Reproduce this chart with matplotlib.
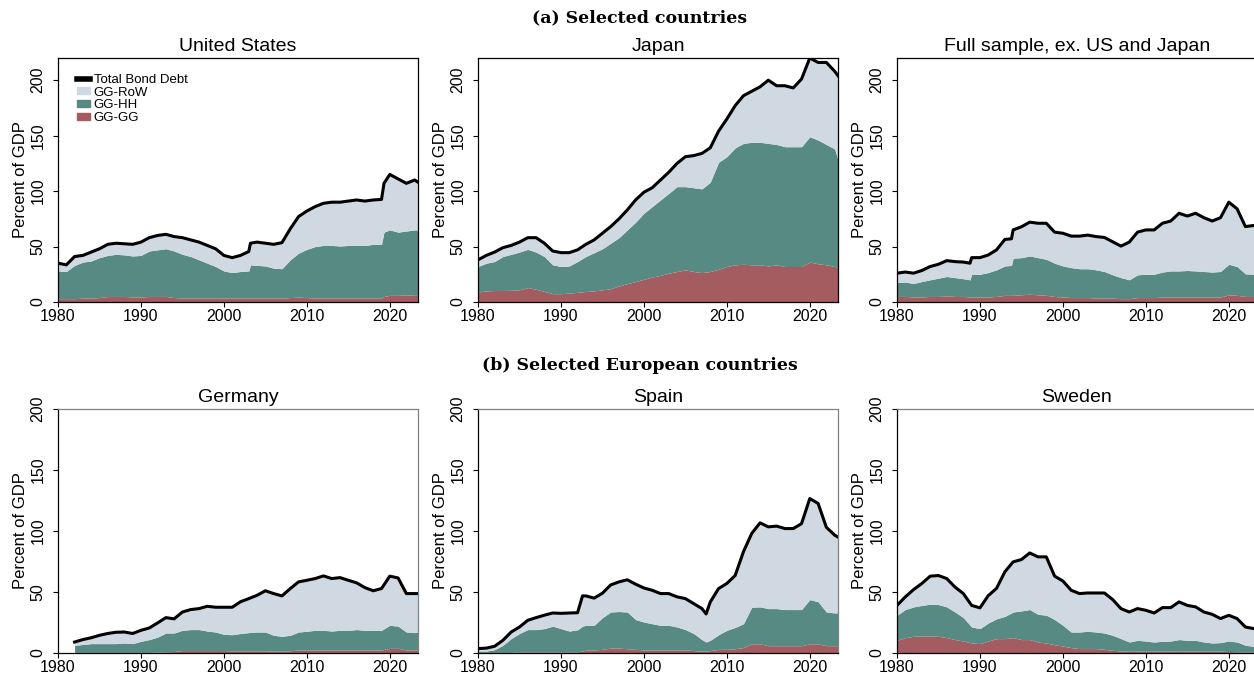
import numpy as np
import matplotlib
matplotlib.use('Agg')
import matplotlib.pyplot as plt
from matplotlib.lines import Line2D
from matplotlib.patches import Patch

plt.rcParams['font.family'] = ['Liberation Sans', 'DejaVu Sans']

# --- data (percent of GDP) ---
# each country: years, GG-GG level, GG-GG + GG-HH level, total bond debt
us_year = list(range(1980, 2004)) + [2003.2] + list(range(2004, 2020)) + [2019.3] + list(range(2020, 2024)) + [2023.4]
us_gg = [3, 3, 3, 3.5, 3.5, 4, 5, 5, 5, 4.5, 4.5, 5, 5, 5, 4, 3.5, 3.5, 3.5, 3.5, 3.5, 3.5, 3.5, 3.5, 3.5,
         3.5,
         3.5, 3.5, 3.5, 3.5, 4, 4.5, 4, 3.5, 3.5, 3.5, 3.5, 3.5, 3.5, 3.5, 3.5, 3.5,
         5,
         6, 6, 6.5, 6,
         6]
us_hh = [28, 27.5, 33, 36, 37, 40, 42, 43, 42.5, 41.5, 42, 46, 47, 48, 46, 43, 41, 38, 35, 32, 28, 26.5, 27.5, 28,
         33.5,
         33, 32.5, 30.5, 30, 38, 44, 47.5, 50, 51, 51, 50.5, 51, 51, 51, 52, 52,
         63,
         65, 63, 64, 65,
         65]
us_total = [35, 33.5, 41, 42, 45, 48, 52, 53, 52.5, 52, 54, 58, 60, 61, 59, 58, 56, 54, 51, 48, 42, 40, 42, 45.5,
            53,
            54, 53, 52, 53.5, 66, 77, 82, 86, 89, 90, 90, 91, 92, 91, 92, 92.5,
            107,
            115, 111, 107, 110,
            108]

jp_year = list(range(1980, 2024)) + [2023.4]
jp_gg = [9, 10, 10.4, 10.4, 10.5, 11, 13, 11.5, 9.5, 7.5,
         7.5, 8, 8.7, 9.5, 10, 11, 12, 14.5, 16.5, 18.5,
         20.5, 22.5, 24, 26, 27.5, 29, 27.5, 26.5, 27.5, 29.5,
         32, 33.5, 34, 33.5, 33.5, 32.5, 33.5, 32, 32, 32,
         36, 34.5, 33.5, 32, 31]
jp_hh = [32, 35, 36.5, 41, 43, 45, 47.5, 45, 41, 33.5,
         32, 32.5, 36.5, 41, 44.5, 48, 53, 58, 65, 72,
         80, 86, 92, 98, 104, 104, 103, 102, 108, 126,
         131, 139, 143, 144, 144, 143, 142, 140, 140, 140,
         149, 146, 142, 138, 128]
jp_total = [38, 42, 45, 49, 51, 54, 58, 58, 53, 46,
            44.5, 44.5, 47, 52, 56, 62, 68, 75, 83, 92,
            99, 103, 110, 117, 125, 131, 132, 134, 139, 154,
            165, 177, 186, 190, 194, 200, 195, 195, 193, 201,
            220, 216, 216, 208, 204]

fs_year = list(range(1980, 1989)) + [1988.8] + list(range(1989, 1994)) + [1993.8] + list(range(1994, 2024)) + [2023.4]
fs_gg = [5, 5, 4.5, 4.5, 5, 5, 5.5, 5, 5,
         4.5,
         4.5, 4.5, 4.5, 5, 6,
         6,
         6, 6.5, 7, 6.5, 6, 5, 4.5, 4, 4, 4, 3.5, 3.5, 3.5, 3, 3,
         4, 4, 4, 4.5, 4.5, 4.5, 4.5, 4.5, 4.5, 4.5, 4.5, 6.5, 6, 5, 5,
         5]
fs_hh = [17.6, 18, 16.7, 18.5, 20, 21.5, 23, 22, 21,
         20,
         25, 25, 26.6, 29, 32.5,
         33,
         39.5, 40, 41.5, 40, 38.5, 35, 32.5, 31, 30, 30, 29, 27.5, 24.5, 22, 20,
         24.5, 25, 25, 27, 28, 28, 28.4, 28, 27.5, 27, 27.5, 34, 32, 25.4, 25,
         25]
fs_total = [26, 27, 26, 28.4, 32, 34, 37.3, 36.4, 36,
            35,
            40, 40, 42.4, 47, 56.4,
            57,
            65, 67.8, 72, 71, 71, 63, 62, 59.4, 59.4, 60.3, 59, 58.2, 54.3, 50.4, 54,
            63, 65, 65, 71, 73, 80, 77.5, 80, 76, 73, 76, 90, 84, 68, 69,
            68]

de_year = list(range(1982, 2024)) + [2023.4]
de_gg = [0.5, 0.5, 0.5, 0.5, 0.5, 0.5, 0.5, 0.5, 0.5, 0.5,
         0.8, 1, 1.2, 2, 2, 2, 2, 2, 2, 1.8,
         1.8, 1.8, 1.8, 1.8, 1.5, 1.5, 1.8, 2.5, 2.5, 2.5,
         2.5, 2.5, 2.5, 2.5, 2.5, 2.5, 2.5, 2.5, 3.8, 3.8,
         2.5, 2.5, 2.5]
de_hh = [6.3, 7, 7.7, 7.7, 7.7, 7.7, 8.2, 7.7, 9.6, 11,
         13, 16.4, 16.4, 18.6, 19.2, 19.2, 18, 17.2, 15.3, 15,
         16, 16.7, 17.2, 17.2, 14.5, 13.7, 14.5, 17.2, 17.8, 18.6,
         18.6, 18, 18.6, 18.6, 19.2, 18.6, 18.6, 18.6, 22.7, 22,
         17.2, 16.7, 17]
de_total = [9, 11, 12.5, 14.5, 16, 17, 17.2, 16, 18.6, 20.5,
            24.6, 29, 28, 33.6, 35.6, 36.4, 38.3, 37.5, 37.5, 37.5,
            42, 44.6, 47.3, 51, 48.7, 46.8, 52.8, 58.3, 59.6, 61,
            63.2, 61, 61.8, 59.6, 57.5, 53.6, 51, 52.8, 63, 61.5,
            48.7, 48.7, 48.7]

es_year = list(range(1980, 1993)) + [1992.6] + list(range(1993, 2008)) + [2007.5] + list(range(2008, 2024)) + [2023.4]
es_gg = [0.5, 0.5, 0.5, 0.5, 0.5, 1, 1, 1, 1, 1, 1, 1, 1,
         1.5,
         2.5, 2.5, 3, 4, 4, 3.5, 3, 2.5, 2.5, 2.5, 2.5, 2.5, 2.5, 2, 1.5,
         1.5,
         2, 3, 3, 3.5, 4.5, 7.5, 7.5, 6, 6, 6, 6, 6, 7.5, 7.5, 6, 6,
         6]
es_hh = [1.6, 1.6, 2.7, 6.3, 11.8, 16, 19.2, 19.2, 20, 22, 20, 18, 19,
         22,
         22.7, 22.7, 29, 33.6, 34, 33.6, 27.4, 25.4, 24, 22.7, 22.7, 21.3, 19.2, 16, 11,
         9,
         10.4, 15, 18.6, 21, 24, 37.5, 37.8, 36.4, 36.4, 35.6, 35.6, 35.6, 43.8, 42, 33.6, 32.8,
         33]
es_total = [3.6, 4, 5.5, 10.4, 17.2, 21.3, 26.8, 29, 31, 32.8, 32.5, 32.8, 33,
            46.8,
            46.8, 45, 49, 55.8, 58.3, 60, 56.4, 53.3, 51.4, 48.7, 48.7, 46, 44.6, 40.5, 36.4,
            32,
            41.8, 52.8, 57, 63.5, 83, 98, 106.7, 103.4, 104, 102, 102, 106, 126.6, 122.6, 103, 96.6,
            95]

se_year = list(range(1980, 2024)) + [2023.4]
se_gg = [10.4, 12.6, 13.7, 14, 14, 13.7, 12.6, 11, 9.8, 8.2,
         7.7, 9.8, 11.8, 11.8, 12.6, 11, 11, 9, 8.2, 6.8,
         5.7, 4.4, 3.6, 3.6, 3.6, 3, 2.2, 1.6, 1.4, 1.5,
         1.5, 1.5, 1.5, 1.5, 1.5, 1.5, 1.5, 1.5, 1.5, 1.5,
         1.2, 1, 1, 1, 1]
se_hh = [31, 35.6, 37.8, 39, 40, 39.7, 37.8, 33.6, 29, 21.3,
         20, 24.6, 28, 30, 33.6, 34.5, 35.6, 31.7, 31, 27.4,
         22.7, 17.2, 17.2, 17.8, 17.2, 16.4, 14.5, 11.8, 9, 10.4,
         9.8, 9, 9.6, 9.8, 11, 10.4, 10.4, 9, 8.2, 8.5,
         9.8, 9, 6.3, 5.5, 5.5]
se_total = [39, 46, 52, 57, 63, 63.5, 61, 54, 48.7, 39,
            37, 47, 53, 66.5, 74.7, 76.6, 82, 78.8, 78.8, 63,
            59, 51.4, 48.7, 49.2, 49.2, 49.2, 43.8, 36.4, 33.6, 36.4,
            35, 32.8, 37.2, 37.2, 41.9, 39, 37.8, 33.6, 31.7, 28.2,
            30.9, 28.2, 21.3, 20, 19.5]

panels = [
    ('United States', us_year, us_gg, us_hh, us_total),
    ('Japan', jp_year, jp_gg, jp_hh, jp_total),
    ('Full sample, ex. US and Japan', fs_year, fs_gg, fs_hh, fs_total),
    ('Germany', de_year, de_gg, de_hh, de_total),
    ('Spain', es_year, es_gg, es_hh, es_total),
    ('Sweden', se_year, se_gg, se_hh, se_total),
]

C_ROW = '#d0d9e2'
C_HH = '#568a82'
C_GG = '#a45c60'

fig = plt.figure(figsize=(12.54, 6.75), dpi=100)

# axes boxes in pixels (left edges, top edges, width, height)
W, H = 1254, 675
lefts = [58, 478, 897]
tops = [58, 409]
aw, ah = 360, 244

for i, (name, yr, gg, hh, tot) in enumerate(panels):
    row, col = divmod(i, 3)
    ax = fig.add_axes([lefts[col] / W, 1 - (tops[row] + ah) / H, aw / W, ah / H])
    yr = np.array(yr, dtype=float)
    gg = np.array(gg, dtype=float)
    hh = np.array(hh, dtype=float)
    tot = np.array(tot, dtype=float)
    ax.fill_between(yr, 0, gg, color=C_GG, lw=0)
    ax.fill_between(yr, gg, hh, color=C_HH, lw=0)
    ax.fill_between(yr, hh, tot, color=C_ROW, lw=0)
    ax.plot(yr, tot, color='black', lw=2.2, solid_joinstyle='round')

    ax.set_xlim(1980, 2023.4)
    if row == 0:
        ax.set_ylim(0, 220)
    else:
        ax.set_ylim(0, 200)
        ax.spines['top'].set_color('#808080')
        ax.spines['right'].set_color('#808080')
    ax.set_xticks([1980, 1990, 2000, 2010, 2020])
    ax.set_yticks([0, 50, 100, 150, 200])
    ax.tick_params(axis='both', direction='out', length=3.5, width=0.8, labelsize=11.5)
    ax.tick_params(axis='y', pad=5.5)
    ax.tick_params(axis='x', pad=1.5)
    for lab in ax.get_yticklabels():
        lab.set_rotation(90)
        lab.set_va('center')
    ax.set_ylabel('Percent of GDP', fontsize=12, labelpad=2)
    ax.set_title(name, fontsize=14, pad=5)
    for s in ax.spines.values():
        s.set_linewidth(0.9)

    if i == 0:
        handles = [Line2D([0], [0], color='black', lw=4),
                   Patch(facecolor=C_ROW, edgecolor=C_ROW),
                   Patch(facecolor=C_HH, edgecolor=C_HH),
                   Patch(facecolor=C_GG, edgecolor=C_GG)]
        ax.legend(handles, ['Total Bond Debt', 'GG-RoW', 'GG-HH', 'GG-GG'],
                  loc='upper left', bbox_to_anchor=(0.053, 0.935), frameon=False,
                  fontsize=9.5, handlelength=1.0, handleheight=0.45,
                  handletextpad=0.25, labelspacing=0.05, borderpad=0, borderaxespad=0)

serif = ['DejaVu Serif']
fig.text(640 / W, 1 - 18 / H, '(a) Selected countries', ha='center', va='center',
         fontsize=12.5, fontweight='bold', family=serif)
fig.text(640 / W, 1 - 365 / H, '(b) Selected European countries', ha='center', va='center',
         fontsize=12.5, fontweight='bold', family=serif)

fig.savefig('out.png', dpi=100)
